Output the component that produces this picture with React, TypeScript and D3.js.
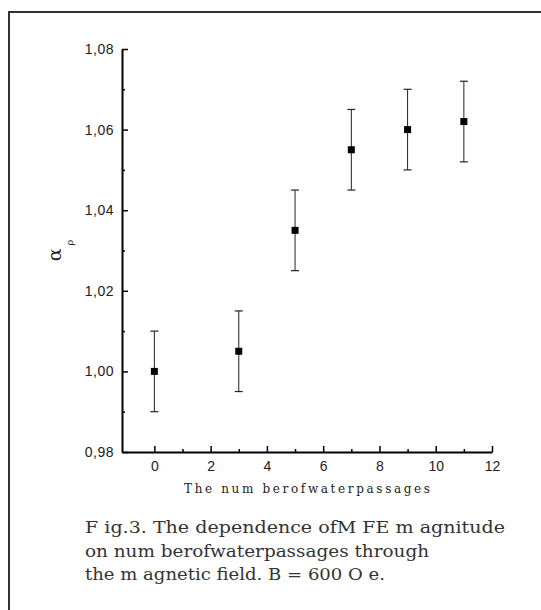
import { useEffect, useRef } from "react";
import * as d3 from "d3";

// passages through magnetic field vs. alpha_rho
const passages = [0, 3, 5, 7, 9, 11];
const alphaRho = [1.0, 1.005, 1.035, 1.055, 1.06, 1.062];
const errors = [0.01, 0.01, 0.01, 0.01, 0.01, 0.01];

const xMajor = [0, 2, 4, 6, 8, 10, 12];
const xMinor = [1, 3, 5, 7, 9, 11];
const yMajor = [0.98, 1.0, 1.02, 1.04, 1.06, 1.08];
const yMinor = [0.99, 1.01, 1.03, 1.05, 1.07];

const xTitle = "The num berofwaterpassages";
const caption = [
  "F ig.3. The dependence ofM FE m agnitude",
  "on num berofwaterpassages through",
  "the m agnetic field. B = 600 O e.",
];

const width = 541;
const height = 610;
const margin = { top: 49, right: 49, bottom: 158, left: 122 };

export default function App() {
  const ref = useRef(null);

  useEffect(() => {
    const svg = d3.select(ref.current);
    svg.selectAll("*").remove();

    const x = d3.scaleLinear([-1.15, 12], [margin.left, width - margin.right]);
    const y = d3.scaleLinear([0.98, 1.08], [height - margin.bottom, margin.top]);
    const fmt = (d) => d3.format(".2f")(d).replace(".", ",");

    // frame round the figure
    svg
      .append("rect")
      .attr("x", 9)
      .attr("y", 12)
      .attr("width", 560)
      .attr("height", 620)
      .attr("fill", "none")
      .attr("stroke", "#333")
      .attr("stroke-width", 2);

    // minor ticks first
    svg
      .append("g")
      .attr("transform", `translate(0,${y(0.98)})`)
      .call(d3.axisBottom(x).tickValues(xMinor).tickSize(-3).tickFormat(() => ""))
      .call((g) => g.select(".domain").remove())
      .selectAll("line")
      .attr("stroke-width", 1.5);

    svg
      .append("g")
      .attr("transform", `translate(${x(-1.15)},0)`)
      .call(d3.axisLeft(y).tickValues(yMinor).tickSize(-3).tickFormat(() => ""))
      .call((g) => g.select(".domain").remove())
      .selectAll("line")
      .attr("stroke-width", 1.5);

    const xAxis = svg
      .append("g")
      .attr("transform", `translate(0,${y(0.98)})`)
      .call(
        d3.axisBottom(x).tickValues(xMajor).tickSizeInner(-6).tickSizeOuter(0).tickPadding(9)
      );
    xAxis.select(".domain").attr("stroke-width", 2);
    xAxis.selectAll("line").attr("stroke-width", 1.5);
    xAxis
      .selectAll("text")
      .attr("font-family", "Liberation Sans, Arial, sans-serif")
      .attr("font-size", 14)
      .attr("fill", "#222");

    const yAxis = svg
      .append("g")
      .attr("transform", `translate(${x(-1.15)},0)`)
      .call(
        d3
          .axisLeft(y)
          .tickValues(yMajor)
          .tickSizeInner(-6)
          .tickSizeOuter(0)
          .tickPadding(8)
          .tickFormat(fmt)
      );
    yAxis.select(".domain").attr("stroke-width", 2);
    yAxis.selectAll("line").attr("stroke-width", 1.5);
    yAxis
      .selectAll("text")
      .attr("font-family", "Liberation Sans, Arial, sans-serif")
      .attr("font-size", 14)
      .attr("fill", "#222")
      .attr("letter-spacing", 0.5);

    // error bars
    const bars = svg
      .append("g")
      .selectAll("g")
      .data(passages.map((p, i) => ({ p, v: alphaRho[i], e: errors[i] })))
      .join("g");

    bars
      .append("line")
      .attr("x1", (d) => x(d.p))
      .attr("x2", (d) => x(d.p))
      .attr("y1", (d) => y(d.v - d.e))
      .attr("y2", (d) => y(d.v + d.e))
      .attr("stroke", "#222")
      .attr("stroke-width", 1);
    [-1, 1].forEach((s) => {
      bars
        .append("line")
        .attr("x1", (d) => x(d.p) - 4)
        .attr("x2", (d) => x(d.p) + 4)
        .attr("y1", (d) => y(d.v + s * d.e))
        .attr("y2", (d) => y(d.v + s * d.e))
        .attr("stroke", "#222")
        .attr("stroke-width", 1.2);
    });
    bars
      .append("rect")
      .attr("x", (d) => x(d.p) - 3.5)
      .attr("y", (d) => y(d.v) - 3.5)
      .attr("width", 7)
      .attr("height", 7)
      .attr("fill", "#000");

    // axis titles
    svg
      .append("text")
      .attr("x", (x(-1.15) + x(12)) / 2)
      .attr("y", 493)
      .attr("text-anchor", "middle")
      .attr("font-family", "DejaVu Serif, serif")
      .attr("font-size", 12)
      .attr("textLength", 246)
      .attr("fill", "#222")
      .text(xTitle);

    const yt = svg
      .append("text")
      .attr("transform", `translate(61,${(y(0.98) + y(1.08)) / 2}) rotate(-90)`)
      .attr("text-anchor", "middle")
      .attr("font-family", "DejaVu Serif, serif")
      .attr("fill", "#222");
    yt.append("tspan").attr("font-size", 19).text("α");
    yt.append("tspan").attr("font-size", 10).attr("dx", 3).attr("dy", 12).text("ρ");

    // caption
    svg
      .append("g")
      .selectAll("text")
      .data(caption)
      .join("text")
      .attr("x", 85)
      .attr("y", (d, i) => 533 + i * 23.5)
      .attr("font-family", "DejaVu Serif, serif")
      .attr("font-size", 16)
      .attr("fill", "#333")
      .attr("textLength", (d, i) => [420, 344, 300][i])
      .attr("lengthAdjust", "spacingAndGlyphs")
      .text((d) => d);
  }, []);

  return (
    <svg
      ref={ref}
      width={width}
      height={height}
      style={{ position: "absolute", left: 0, top: 0, background: "#fff" }}
    />
  );
}
